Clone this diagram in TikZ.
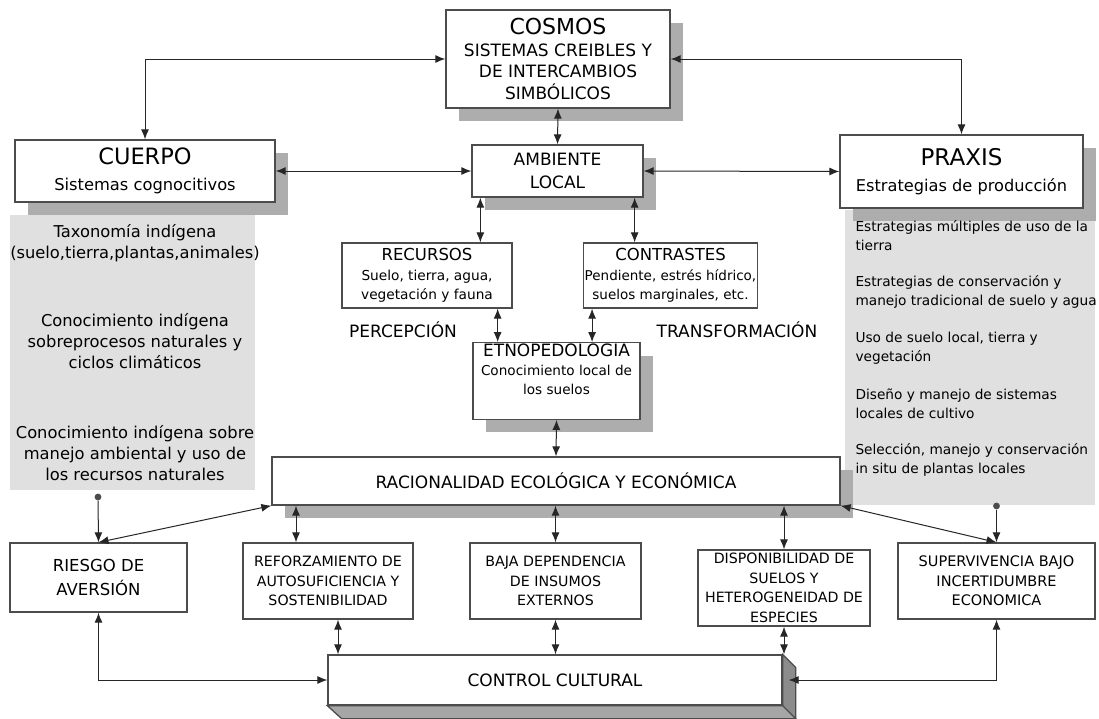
\documentclass[tikz,border=0pt]{standalone}
\usepackage{fontspec}
\setmainfont{DejaVu Sans}
\usetikzlibrary{arrows,arrows.meta,shadows}
\newcommand{\fsz}[2]{\fontsize{#1}{#2}\selectfont}

\begin{document}
\begin{tikzpicture}[x=1pt,y=-1pt,>={Latex[length=10pt,width=8pt]},
  box/.style={draw=black!70,line width=1.3pt,fill=white,align=center,inner sep=1pt},
  shade/.style={drop shadow={shadow xshift=13pt,shadow yshift=-13pt,fill=black!32,opacity=1}},
  link/.style={<->,draw=black!85,line width=1pt},
  dot/.style={circle,fill=black!70,inner sep=2.4pt},
  note/.style={align=center,font=\fsz{16.3}{21}},
  item/.style={align=left,anchor=west,font=\fsz{13.7}{19}}]
\useasboundingbox (0,0) rectangle (1099,718);
\fill[white] (0,0) rectangle (1099,718);

% gray panels
\fill[black!12] (10,215) rectangle (255,490);
\fill[black!12] (845,210) rectangle (1095,505);

% top row
\node (cosmos) at (558,59) [box,shade,minimum width=224,minimum height=98,font=\fsz{17}{21.5}]{{\fsz{22}{22}COSMOS}\\SISTEMAS CREIBLES Y\\DE INTERCAMBIOS\\SIMBÓLICOS};
\node (cuerpo) at (145,171) [box,shade,minimum width=260,minimum height=62,font=\fsz{16.3}{26}]{{\fsz{22.5}{24}CUERPO}\\Sistemas cognocitivos};
\node (amb) at (557.5,171) [box,shade,minimum width=171,minimum height=52,font=\fsz{17}{23}]{AMBIENTE\\LOCAL};
\node (praxis) at (961.5,171.5) [box,shade,minimum width=243,minimum height=73,font=\fsz{16.2}{26}]{{\fsz{23}{24}PRAXIS}\\Estrategias de producción};

% middle
\node (rec) at (427,275.5) [box,minimum width=170,minimum height=65,font=\fsz{13.7}{19.5}]{{\fsz{16.5}{17}RECURSOS}\\Suelo, tierra, agua,\\vegetación y fauna};
\node (con) at (670.5,275.5) [box,minimum width=171,minimum height=65,font=\fsz{13.5}{19.5}]{{\fsz{16.5}{17}CONTRASTES}\\Pendiente, estrés hídrico,\\suelos marginales, etc.};
\node (perc) at (403,330) [font=\fsz{17}{18}]{PERCEPCIÓN};
\node (trans) at (737,330) [font=\fsz{17}{18}]{TRANSFORMACIÓN};
\node (etno) at (556.5,381) [box,shade,minimum width=167,minimum height=74,font=\fsz{13.6}{19}]{{\fsz{17}{17}ETNOPEDOLOGIA}\\Conocimiento local de\\los suelos\\[5pt]};
\node (racio) at (556,481) [box,shade,minimum width=568,minimum height=48,font=\fsz{17}{18}]{RACIONALIDAD ECOLÓGICA Y ECONÓMICA};

% left notes
\node (tax) at (135,243) [note]{Taxonomía indígena\\(suelo,tierra,plantas,animales)};
\node (proc) at (135,341) [note]{Conocimiento indígena\\sobreprocesos naturales y\\ciclos climáticos};
\node (manejo) at (135,453) [note]{Conocimiento indígena sobre\\manejo ambiental y uso de\\los recursos naturales};

% right notes
\node (e1) at (852,236) [item]{Estrategias múltiples de uso de la\\tierra};
\node (e2) at (852,292) [item]{Estrategias de conservación y\\manejo tradicional de suelo y agua};
\node (e3) at (852,348) [item]{Uso de suelo local, tierra y\\vegetación};
\node (e4) at (852,404) [item]{Diseño y manejo de sistemas\\locales de cultivo};
\node (e5) at (852,460) [item]{Selección, manejo y conservación\\in situ de plantas locales};

% bottom row
\node (riesgo) at (98.5,577.5) [box,minimum width=177,minimum height=69,font=\fsz{16.5}{24}]{RIESGO DE\\AVERSIÓN};
\node (ref) at (328,581) [box,minimum width=170,minimum height=76,font=\fsz{14.2}{19.5}]{REFORZAMIENTO DE\\AUTOSUFICIENCIA Y\\SOSTENIBILIDAD};
\node (baja) at (555.5,581) [box,minimum width=171,minimum height=76,font=\fsz{14.2}{19.5}]{BAJA DEPENDENCIA\\DE INSUMOS\\EXTERNOS};
\node (disp) at (784,588) [box,minimum width=172,minimum height=76,font=\fsz{14.2}{19.5}]{DISPONIBILIDAD DE\\SUELOS Y\\HETEROGENEIDAD DE\\ESPECIES};
\node (sup) at (996.5,581) [box,minimum width=197,minimum height=76,font=\fsz{14.5}{19.5}]{SUPERVIVENCIA BAJO\\INCERTIDUMBRE\\ECONOMICA};
\node (control) at (555,680) [box,minimum width=454,minimum height=50,font=\fsz{17}{18}]{CONTROL CULTURAL};
\fill[black!45,draw=black!70,line width=1.3pt] (control.north east) -- ++(13,13) -- ++(0,60) -- ++(-13,0) -- cycle;
\fill[black!35,draw=black!70,line width=1.3pt] (control.south west) -- (control.south east) -- ++(13,13) -- ++(-454,0) -- cycle;

\node (dotl) at (98,497) [dot]{};
\node (dotr) at (996.5,506) [dot]{};

% connectors
\draw[link] (cuerpo.north) |- (cosmos.west);
\draw[link] (cosmos.east) -| (praxis.north);
\draw[link] (cosmos.south) -- (amb.north);
\draw[link] (cuerpo.east) -- (amb.west);
\draw[link] (amb.east) -- (praxis.west);
\coordinate (ra) at ([xshift=9pt]amb.south west);
\coordinate (ca) at ([xshift=-9pt]amb.south east);
\draw[link] (ra) -- (ra |- rec.north);
\draw[link] (ca) -- (ca |- con.north);
\coordinate (re) at ([xshift=-15pt]rec.south east);
\coordinate (ce) at ([xshift=9pt]con.south west);
\draw[link] (re) -- (re |- etno.north);
\draw[link] (ce) -- (ce |- etno.north);
\draw[link] (etno.south) -- (racio.north);
\draw[link] (racio.south west) -- (riesgo.north);
\draw[link] (racio.south east) -- (sup.north);
\draw[->,draw=black!85,line width=1pt] (dotl) -- (riesgo.north);
\draw[->,draw=black!85,line width=1pt] (dotr) -- (sup.north);
\coordinate (rf) at ([xshift=-32pt]ref.north);
\draw[link] (rf) -- (rf |- racio.south);
\draw[link] (baja.north) -- (baja.north |- racio.south);
\draw[link] (disp.north) -- (disp.north |- racio.south);
\coordinate (rc) at ([xshift=10pt]ref.south);
\draw[link] (rc) -- (rc |- control.north);
\draw[link] (baja.south) -- (baja.south |- control.north);
\draw[link] (disp.south) -- (disp.south |- control.north);
\draw[link] (riesgo.south) |- (control.west);
\coordinate (cr) at ([xshift=6pt]control.east);
\draw[link] (sup.south) |- (cr);
\end{tikzpicture}
\end{document}
